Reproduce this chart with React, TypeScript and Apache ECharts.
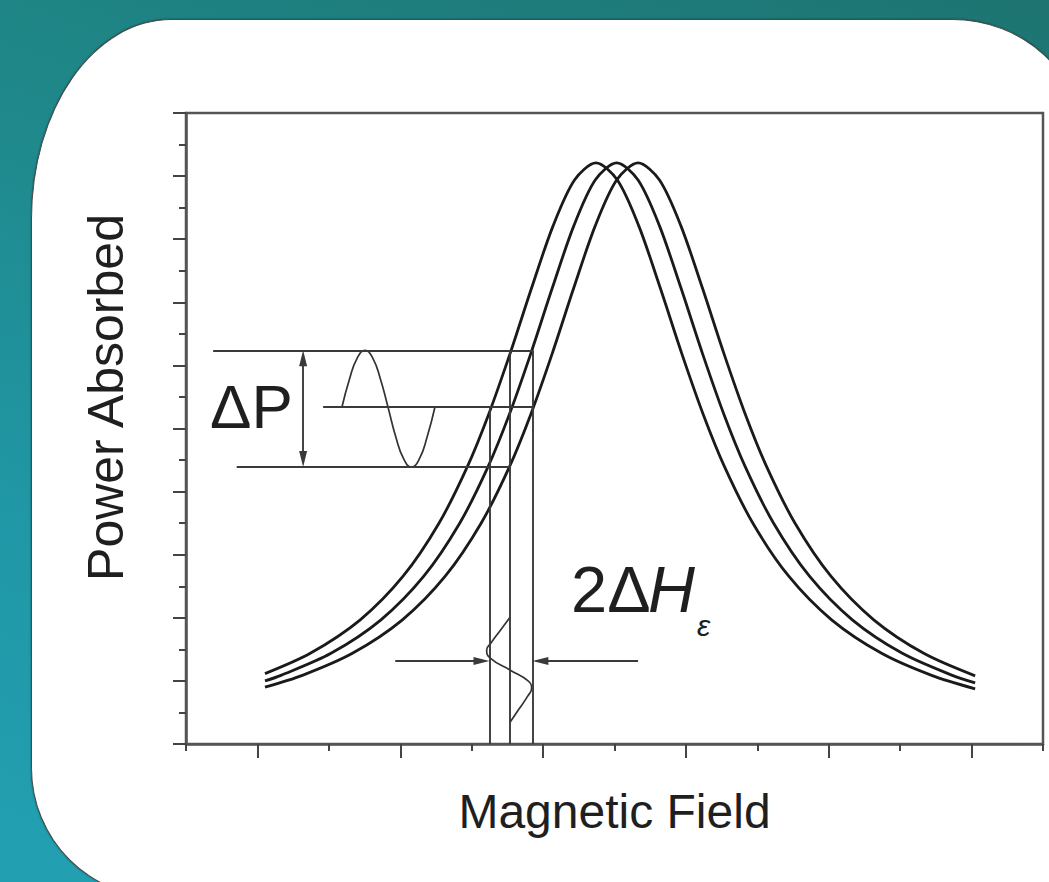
import React, { useEffect, useRef } from "react";
import * as echarts from "echarts";

// Three shifted absorption curves (x in field units, y in power units)
const curveAX = [1.106, 1.74, 2.44, 3.04, 3.54, 3.94, 4.24, 4.54, 4.84, 5.14, 5.44, 5.74, 6.04, 6.34, 6.64, 6.94, 7.24, 7.54, 7.94, 8.44, 9.04, 9.74, 10.44, 11.05];
const curveAY = [1.115, 1.437, 1.968, 2.659, 3.494, 4.396, 5.231, 6.195, 7.23, 8.211, 8.938, 9.21, 8.938, 8.211, 7.23, 6.195, 5.231, 4.396, 3.494, 2.659, 1.968, 1.437, 1.088, 0.875];

const curveBX = [1.106, 1.33, 2.03, 2.73, 3.33, 3.83, 4.23, 4.53, 4.83, 5.13, 5.43, 5.73, 6.03, 6.33, 6.63, 6.93, 7.23, 7.53, 7.83, 8.23, 8.73, 9.33, 10.03, 10.73, 11.05];
const curveBY = [1.0, 1.088, 1.437, 1.968, 2.659, 3.494, 4.396, 5.231, 6.195, 7.23, 8.211, 8.938, 9.21, 8.938, 8.211, 7.23, 6.195, 5.231, 4.396, 3.494, 2.659, 1.968, 1.437, 1.088, 0.969];

const curveCX = [1.106, 1.63, 2.33, 3.03, 3.63, 4.13, 4.53, 4.83, 5.13, 5.43, 5.73, 6.03, 6.33, 6.63, 6.93, 7.23, 7.53, 7.83, 8.13, 8.53, 9.03, 9.63, 10.33, 11.05];
const curveCY = [0.901, 1.088, 1.437, 1.968, 2.659, 3.494, 4.396, 5.231, 6.195, 7.23, 8.211, 8.938, 9.21, 8.938, 8.211, 7.23, 6.195, 5.231, 4.396, 3.494, 2.659, 1.968, 1.437, 1.08];

// Power modulation wave (left)
const powerWaveX = [2.184, 2.291, 2.399, 2.506, 2.613, 2.721, 2.828, 2.938, 3.048, 3.157, 3.267, 3.376, 3.486];
const powerWaveY = [5.34, 5.79, 6.12, 6.24, 6.12, 5.79, 5.34, 4.865, 4.517, 4.39, 4.517, 4.865, 5.34];

// Field modulation wave (bottom, vertical)
const fieldWaveX = [4.54, 4.4, 4.27, 4.21, 4.26, 4.54, 4.79, 4.84, 4.78, 4.66, 4.54];
const fieldWaveY = [2.013, 1.8, 1.6, 1.49, 1.36, 1.17, 1.0, 0.887, 0.75, 0.55, 0.349];

// Annotation guide lines
const dpLevels = [6.24, 5.34, 4.39];
const hLineStarts = [0.38, 1.92, 0.71];
const hLineEnds = [4.85, 4.85, 4.54];
const vLineX = [4.25, 4.54, 4.85];
const vLineTops = [5.34, 6.24, 6.24];
const dpArrowX = 1.64;
const fieldArrowY = 1.315;
const fieldArrowTails = [2.93, 6.33];
const fieldArrowTips = [4.25, 4.85];

const xMajorTicks = [1, 3, 5, 7, 9, 11];
const xMinorTicks = [0, 2, 4, 6, 8, 10, 12];

const zip = (xs: number[], ys: number[]) => xs.map((x, i) => [x, ys[i]]);

const FONT = '"Liberation Sans", Arial, Helvetica, sans-serif';
const ARROW: [number, number] = [8, 16];
// half arrow length converted to axis units (grid 857px / 12 units, 631px / 10 units)
const AX = 8 / (857 / 12);
const AY = 8 / (631 / 10);

export default function App() {
  const ref = useRef<HTMLDivElement>(null);
  useEffect(() => {
    const chart = echarts.init(ref.current!, null, { renderer: "svg" });
    const curveStyle = { color: "#1a1a1a", width: 2.8 };
    const segs: any[] = [];
    dpLevels.forEach((lv, i) => {
      segs.push([{ coord: [hLineStarts[i], lv] }, { coord: [hLineEnds[i], lv] }]);
    });
    vLineX.forEach((x, i) => {
      segs.push([{ coord: [x, 0] }, { coord: [x, vLineTops[i]] }]);
    });
    segs.push([
      { coord: [dpArrowX, dpLevels[2] + AY], symbol: "triangle", symbolSize: ARROW },
      { coord: [dpArrowX, dpLevels[0] - AY], symbol: "triangle", symbolSize: ARROW },
    ]);
    segs.push([
      { coord: [fieldArrowTails[0], fieldArrowY], symbol: "none" },
      { coord: [fieldArrowTips[0] - AX, fieldArrowY], symbol: "triangle", symbolSize: ARROW },
    ]);
    segs.push([
      { coord: [fieldArrowTails[1], fieldArrowY], symbol: "none" },
      { coord: [fieldArrowTips[1] + AX, fieldArrowY], symbol: "triangle", symbolSize: ARROW },
    ]);

    const tickStyle = { color: "#444", width: 2 };
    chart.setOption({
      animation: false,
      backgroundColor: "transparent",
      grid: {
        left: 186,
        top: 113,
        right: 6,
        bottom: 138,
        show: true,
        borderColor: "#555",
        borderWidth: 2.5,
        backgroundColor: "transparent",
      },
      xAxis: [
        {
          type: "value",
          min: 0,
          max: 12,
          position: "bottom",
          axisLine: { show: true, onZero: false, lineStyle: { color: "#555", width: 2.5 } },
          axisTick: { show: true, customValues: xMajorTicks, length: 14, lineStyle: tickStyle },
          axisLabel: { show: false },
          splitLine: { show: false },
          name: "Magnetic Field",
          nameLocation: "middle",
          nameGap: 43,
          nameTextStyle: { fontSize: 48, fontFamily: FONT, color: "#1f1f1f" },
        },
        {
          type: "value",
          min: 0,
          max: 12,
          position: "bottom",
          axisLine: { show: false, onZero: false },
          axisTick: { show: true, customValues: xMinorTicks, length: 7, lineStyle: tickStyle },
          axisLabel: { show: false },
          splitLine: { show: false },
        },
      ],
      yAxis: {
        type: "value",
        min: 0,
        max: 10,
        interval: 1,
        axisLine: { show: true, onZero: false, lineStyle: { color: "#555", width: 2.5 } },
        axisTick: { show: true, length: 13, lineStyle: tickStyle },
        minorTick: { show: true, splitNumber: 2, length: 7, lineStyle: tickStyle },
        axisLabel: { show: false },
        splitLine: { show: false },
        minorSplitLine: { show: false },
        name: "Power Absorbed",
        nameLocation: "middle",
        nameRotate: 90,
        nameGap: 55,
        nameTextStyle: { fontSize: 50, fontFamily: FONT, color: "#1f1f1f", padding: [0, 0, 0, 62] },
      },
      series: [
        { type: "line", name: "H1", data: zip(curveAX, curveAY), symbol: "none", smooth: 0.3, lineStyle: curveStyle, silent: true },
        { type: "line", name: "H2", data: zip(curveBX, curveBY), symbol: "none", smooth: 0.3, lineStyle: curveStyle, silent: true },
        { type: "line", name: "H3", data: zip(curveCX, curveCY), symbol: "none", smooth: 0.3, lineStyle: curveStyle, silent: true },
        {
          type: "line",
          name: "power modulation",
          data: zip(powerWaveX, powerWaveY),
          symbol: "none",
          smooth: 0.5,
          lineStyle: { color: "#333", width: 1.7 },
          silent: true,
          markLine: {
            silent: true,
            animation: false,
            symbol: ["none", "none"],
            symbolSize: ARROW,
            label: { show: false },
            emphasis: { disabled: true },
            lineStyle: { color: "#3a3a3a", width: 1.9, type: "solid" },
            itemStyle: { color: "#222" },
            data: segs,
          },
        },
        {
          type: "line",
          name: "field modulation",
          data: zip(fieldWaveX, fieldWaveY),
          symbol: "none",
          smooth: 0.5,
          lineStyle: { color: "#333", width: 1.7 },
          silent: true,
        },
      ],
      graphic: [
        { type: "text", x: 210, y: 406, silent: true, style: { text: "ΔP", fontSize: 62, fontFamily: FONT, fill: "#1f1f1f", verticalAlign: "middle" } },
        { type: "text", x: 571, y: 589, silent: true, style: { text: "2Δ", fontSize: 65, fontFamily: FONT, fill: "#1f1f1f", verticalAlign: "middle" } },
        { type: "text", x: 648, y: 589, silent: true, style: { text: "H", fontSize: 65, fontStyle: "italic", fontFamily: FONT, fill: "#1f1f1f", verticalAlign: "middle" } },
        { type: "text", x: 697, y: 625, silent: true, style: { text: "ε", fontSize: 30, fontStyle: "italic", fontFamily: FONT, fill: "#1f1f1f", verticalAlign: "middle" } },
      ],
    });
    return () => chart.dispose();
  }, []);

  return (
    <div
      style={{
        position: "fixed",
        left: 0,
        top: 0,
        width: 1049,
        height: 882,
        overflow: "hidden",
        background: "linear-gradient(200deg, #1d7471 0%, #1f8788 35%, #2097a5 70%, #22a0b2 100%)",
      }}
    >
      <div
        style={{
          position: "absolute",
          left: 31,
          top: 19,
          width: 1049,
          height: 877,
          background: "#ffffff",
          border: "1.5px solid #4a4a4a",
          boxShadow: "0 0 2px rgba(0,0,0,0.45)",
          borderRadius: "140px 130px 0 130px / 200px 120px 0 130px",
        }}
      />
      <div ref={ref} style={{ position: "absolute", left: 0, top: 0, width: 1049, height: 882 }} />
    </div>
  );
}
